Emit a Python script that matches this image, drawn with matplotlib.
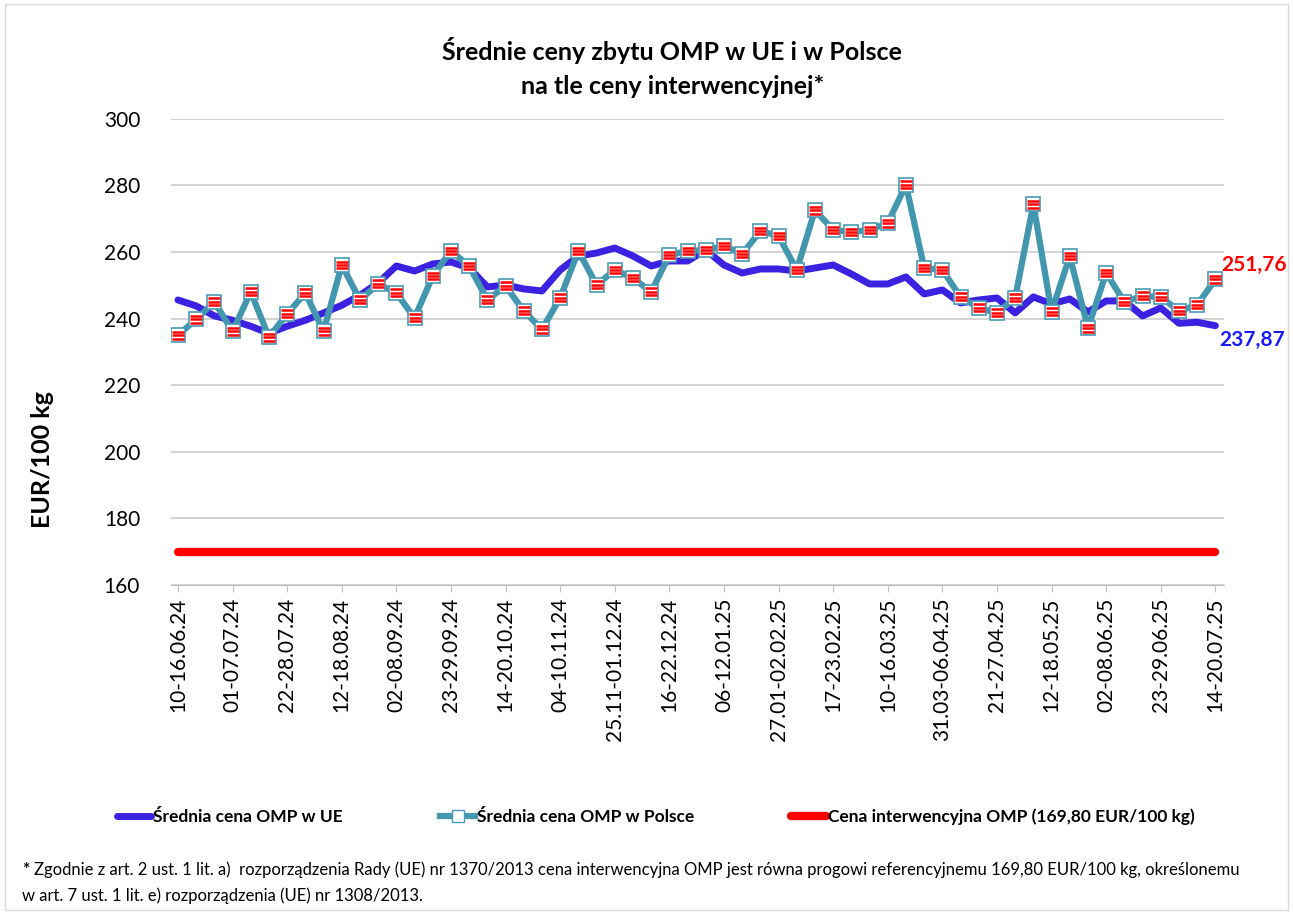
import numpy as np
import matplotlib.pyplot as plt
from matplotlib.transforms import ScaledTranslation
from matplotlib.lines import Line2D
from matplotlib.patches import Rectangle

plt.rcParams['font.family'] = ['Lato', 'DejaVu Sans']

# weekly labels (every third week shown on the axis)
tick_labels = ["10-16.06.24", "01-07.07.24", "22-28.07.24", "12-18.08.24",
               "02-08.09.24", "23-29.09.24", "14-20.10.24", "04-10.11.24",
               "25.11-01.12.24", "16-22.12.24", "06-12.01.25", "27.01-02.02.25",
               "17-23.02.25", "10-16.03.25", "31.03-06.04.25", "21-27.04.25",
               "12-18.05.25", "02-08.06.25", "23-29.06.25", "14-20.07.25"]

price_eu = [245.6, 243.8, 240.8, 239.5, 237.7, 235.6, 237.7, 239.5, 241.7, 244.0,
            247.0, 250.7, 255.8, 254.3, 256.4, 257.0, 255.2, 249.5, 250.1, 248.9,
            248.3, 254.6, 258.8, 259.7, 261.2, 258.8, 255.8, 257.3, 257.3, 260.6,
            256.1, 253.7, 254.9, 254.9, 254.3, 255.2, 256.1, 253.4, 250.4, 250.4,
            252.5, 247.4, 248.6, 244.7, 245.6, 246.2, 241.7, 246.5, 244.4, 245.9,
            242.0, 245.3, 245.3, 240.8, 243.2, 238.6, 238.9, 237.87]

price_pl = [235.0, 239.8, 245.0, 236.2, 248.0, 234.4, 241.4, 247.7, 236.2, 256.1,
            245.6, 250.4, 247.7, 240.2, 252.8, 260.3, 255.8, 245.6, 249.8, 242.3,
            236.8, 246.2, 260.3, 250.1, 254.6, 252.2, 248.0, 259.1, 260.3, 260.6,
            261.8, 259.4, 266.3, 264.8, 254.6, 272.6, 266.6, 266.0, 266.6, 268.7,
            280.2, 255.2, 254.6, 246.5, 243.2, 241.7, 246.2, 274.4, 242.0, 258.8,
            237.1, 253.7, 245.0, 246.8, 246.5, 242.3, 244.1, 251.76]

intervention = 169.80

x = np.arange(len(price_eu))

fig = plt.figure(figsize=(12.93, 9.14), dpi=100)
ax = fig.add_axes([0.132, 0.360, 0.815, 0.510])

# interwencja
ax.plot(x, [intervention] * len(x), color='#ff0000', lw=6, solid_capstyle='round', zorder=2)
# UE
ax.plot(x, price_eu, color='#3a22e0', lw=5, solid_capstyle='round', zorder=3)
# Polska
ax.plot(x, price_pl, color='#4297ae', lw=4.5, zorder=4)
ax.plot(x, price_pl, ls='none', marker='s', ms=10.5, mfc='white', mec='#4a9ab2', mew=1.2, zorder=5)
for dy in (-2.5, 0.0, 2.5):
    off = ax.transData + ScaledTranslation(0, dy / 72, fig.dpi_scale_trans)
    ax.plot(x, price_pl, ls='none', marker='_', ms=9, mec='#ff0000', mew=1.8,
            transform=off, zorder=6)

# etykiety końcowe
ax.text(x[-1] + 0.3, price_pl[-1] + 1.2, "251,76", color='#ff0000', fontsize=15,
        fontweight='bold', va='bottom', ha='left', clip_on=False)
ax.text(x[-1] + 0.2, price_eu[-1] - 4.3, "237,87", color='#1a1aff', fontsize=15,
        fontweight='bold', va='center', ha='left', clip_on=False)

ax.set_xlim(-0.4, 57.5)
ax.set_ylim(160, 300)
ax.set_yticks(range(160, 301, 20))
ax.set_xticks(x[::3])
ax.set_xticklabels(tick_labels, rotation=90, fontsize=15)
ax.tick_params(axis='y', length=0, labelsize=15, pad=22)
ax.tick_params(axis='x', length=5, color='#bfbfbf', pad=4)
ax.grid(axis='y', color='#d0d0d0', lw=1.3)
ax.set_axisbelow(True)
for s in ('left', 'right', 'top'):
    ax.spines[s].set_visible(False)
ax.spines['bottom'].set_color('#bfbfbf')

fig.text(0.033, 0.497, "EUR/100 kg", rotation=90, fontsize=18, fontweight='bold',
         ha='center', va='center')

fig.text(0.520, 0.926, "Średnie ceny zbytu OMP w UE i w Polsce\nna tle ceny interwencyjnej*",
         ha='center', va='center', fontsize=18, fontweight='bold', linespacing=1.55)

# legenda
handles = [
    Line2D([], [], color='#3a22e0', lw=5, solid_capstyle='round'),
    Line2D([], [], color='#4297ae', lw=4.5, marker='s', ms=9, mfc='white', mec='#4a9ab2'),
    Line2D([], [], color='#ff0000', lw=6, solid_capstyle='round'),
]
labels = ["Średnia cena OMP w UE", "Średnia cena OMP w Polsce",
          "Cena interwencyjna OMP (169,80 EUR/100 kg)"]
fig.legend(handles, labels, loc='center', bbox_to_anchor=(0.507, 0.106), ncol=3,
           frameon=False, handlelength=2.0, handletextpad=0.1, columnspacing=5.6,
           prop={'weight': 'bold', 'size': 12.5})

fig.text(0.017, 0.048, "*", fontsize=12.5, fontweight='bold', va='center')
fig.text(0.026, 0.048,
         "Zgodnie z art. 2 ust. 1 lit. a)  rozporządzenia Rady (UE) nr 1370/2013 cena interwencyjna OMP "
         "jest równa progowi referencyjnemu 169,80 EUR/100 kg, określonemu",
         fontsize=12, va='center')
fig.text(0.017, 0.020, "w art. 7 ust. 1 lit. e) rozporządzenia (UE) nr 1308/2013.",
         fontsize=12, va='center')

fig.patches.append(Rectangle((0.004, 0.004), 0.992, 0.992, transform=fig.transFigure,
                             fill=False, ec='#d9d9d9', lw=1))

fig.savefig("out.png", dpi=100)
